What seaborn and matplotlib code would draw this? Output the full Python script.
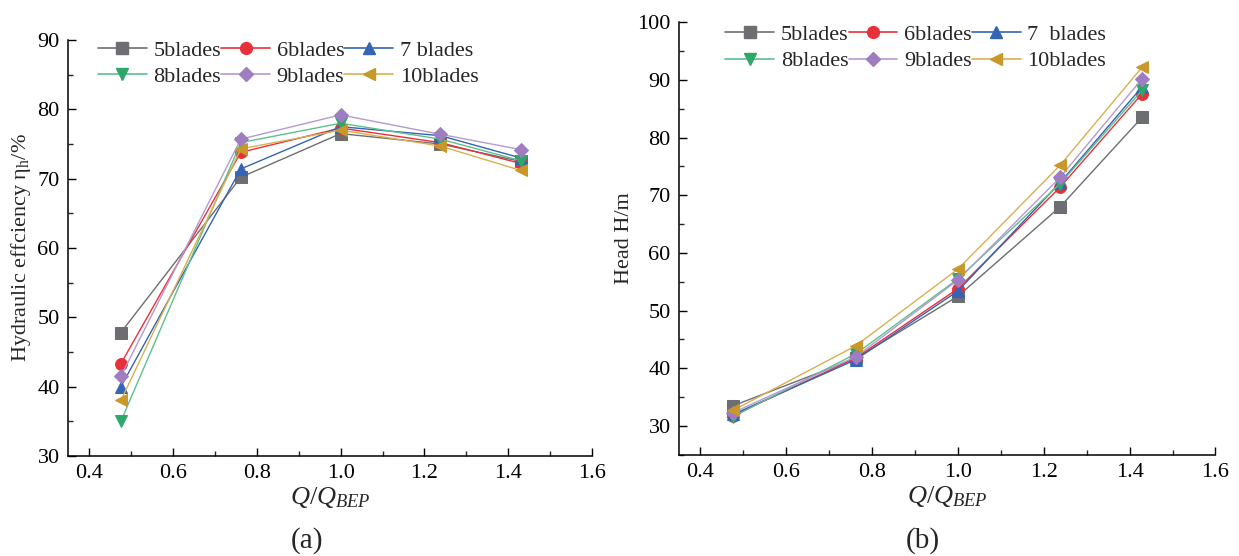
import numpy as np
import pandas as pd
import matplotlib
matplotlib.use("Agg")
import matplotlib.pyplot as plt
from matplotlib.ticker import MultipleLocator
from matplotlib.lines import Line2D
import seaborn as sns

# ---- data ----
flow = [0.476, 0.762, 1.0, 1.238, 1.429]
series_names = ["5blades", "6blades", "7 blades", "8blades", "9blades", "10blades"]
series_names_b = ["5blades", "6blades", "7  blades", "8blades", "9blades", "10blades"]

eff_5 = [47.8, 70.2, 76.5, 75.0, 72.5]
eff_6 = [43.3, 73.8, 77.3, 75.2, 72.2]
eff_7 = [40.0, 71.4, 77.5, 76.2, 73.0]
eff_8 = [35.0, 75.2, 78.0, 75.7, 72.6]
eff_9 = [41.5, 75.7, 79.2, 76.4, 74.2]
eff_10 = [38.0, 74.3, 77.0, 74.7, 71.2]

head_5 = [33.5, 41.7, 52.5, 68.0, 83.5]
head_6 = [31.8, 41.8, 53.8, 71.4, 87.6]
head_7 = [32.0, 41.5, 53.4, 72.2, 88.8]
head_8 = [31.6, 42.5, 55.5, 72.0, 88.2]
head_9 = [32.3, 42.0, 55.3, 73.1, 90.2]
head_10 = [32.7, 43.9, 57.2, 75.2, 92.2]

colors = ["#6d6e71", "#e8303a", "#3464b4", "#2ea86a", "#a07cc0", "#c8982a"]
line_colors = ["#6d6e71", "#e8303a", "#3464b4", "#5cc08c", "#b59ad0", "#d8b050"]
markers = ["s", "o", "^", "v", "D", "<"]

sns.set_theme(style="ticks")
plt.rcParams["font.family"] = ["Liberation Serif", "DejaVu Serif"]
plt.rcParams["mathtext.fontset"] = "custom"
plt.rcParams["mathtext.rm"] = "Liberation Serif"
plt.rcParams["mathtext.it"] = "Liberation Serif:italic"
plt.rcParams["mathtext.bf"] = "Liberation Serif:bold"

fig = plt.figure(figsize=(12.39, 5.56), dpi=100)
ax1 = fig.add_axes([0.0549, 0.180, 0.4231, 0.748])
ax2 = fig.add_axes([0.548, 0.182, 0.433, 0.778])

def build(vals, names):
    rows = []
    for name, v in zip(names, vals):
        for x, y in zip(flow, v):
            rows.append({"x": x, "y": y, "series": name})
    return pd.DataFrame(rows)

def msize(m):
    return 7.5 if m == "D" else 8.5

def draw(ax, vals, names):
    df = build(vals, names)
    for i, name in enumerate(names):
        sub = df[df["series"] == name]
        sns.lineplot(data=sub, x="x", y="y", ax=ax, color=line_colors[i],
                     linewidth=1.0, marker=markers[i], markersize=msize(markers[i]),
                     markerfacecolor=colors[i], markeredgecolor=colors[i],
                     legend=False, zorder=3 + i)
    handles = [Line2D([0], [0], color=line_colors[i], linewidth=1.2, marker=markers[i],
                      markersize=msize(markers[i]),
                      markerfacecolor=colors[i], markeredgecolor=colors[i])
               for i in range(len(names))]
    return handles

h1 = draw(ax1, [eff_5, eff_6, eff_7, eff_8, eff_9, eff_10], series_names)
h2 = draw(ax2, [head_5, head_6, head_7, head_8, head_9, head_10], series_names_b)

for ax in (ax1, ax2):
    sns.despine(ax=ax, top=True, right=True)
    ax.set_xlim(0.35, 1.6)
    ax.xaxis.set_major_locator(MultipleLocator(0.2))
    ax.xaxis.set_minor_locator(MultipleLocator(0.1))
    ax.yaxis.set_major_locator(MultipleLocator(10))
    ax.yaxis.set_minor_locator(MultipleLocator(5))
    ax.tick_params(which="major", direction="in", length=6, width=1, labelsize=16,
                   colors="black", pad=6)
    ax.tick_params(which="minor", direction="in", length=3.5, width=1)
    for s in ax.spines.values():
        s.set_linewidth(1.1)
        s.set_color("black")
    ax.set_xlabel(r"$Q/Q_{BEP}$", fontsize=19, labelpad=1)
    ax.grid(False)

ax1.set_ylim(30, 90)
ax2.set_ylim(25, 100)
ax1.set_ylabel(r"Hydraulic effciency $\mathrm{\eta_h}$/%", fontsize=16, labelpad=3)
ax2.set_ylabel("Head H/m", fontsize=16, labelpad=2)

order = [0, 3, 1, 4, 2, 5]
leg_kw = dict(ncol=3, frameon=False, fontsize=16, handlelength=2.2, handletextpad=0.3,
              columnspacing=0.0, labelspacing=0.25, borderaxespad=0.0)
ax1.legend([h1[i] for i in order], [series_names[i] for i in order],
           loc="upper left", bbox_to_anchor=(0.04, 1.02), **leg_kw)
ax2.legend([h2[i] for i in order], [series_names_b[i] for i in order],
           loc="upper left", bbox_to_anchor=(0.07, 1.015), **leg_kw)

fig.text(0.248, 0.004, "(a)", fontsize=21, ha="center", va="bottom")
fig.text(0.745, 0.004, "(b)", fontsize=21, ha="center", va="bottom")

fig.savefig("out.png", dpi=100)
